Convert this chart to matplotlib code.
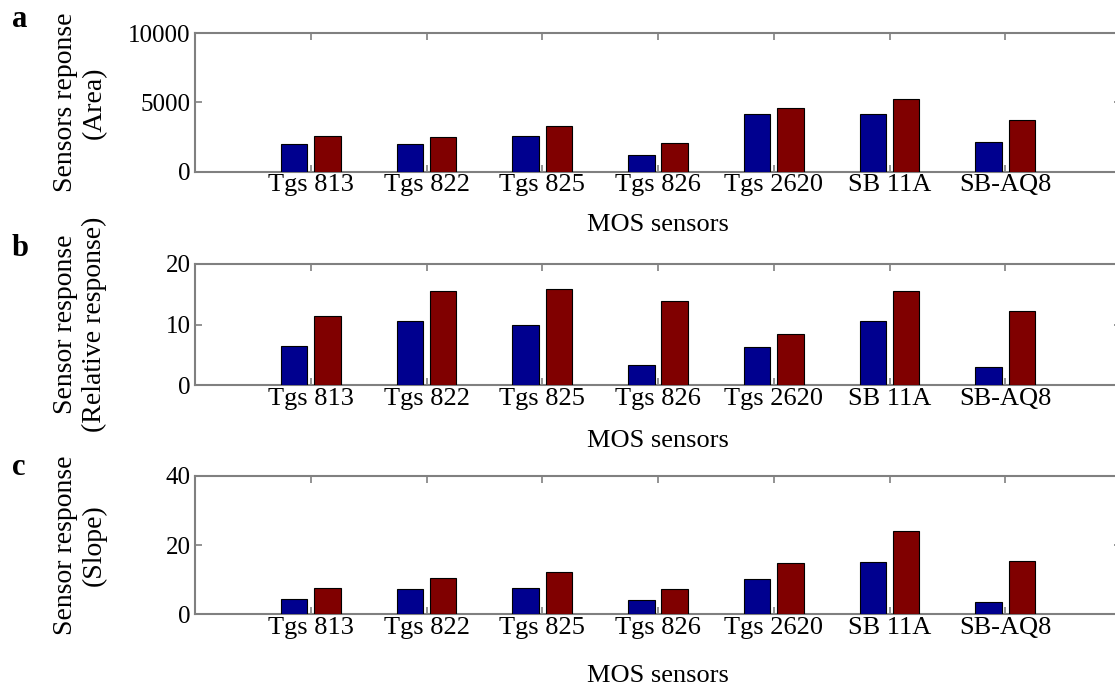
import matplotlib
matplotlib.use('Agg')
import matplotlib.pyplot as plt
import numpy as np

# ---------------- data ----------------
sensors = ['Tgs 813', 'Tgs 822', 'Tgs 825', 'Tgs 826', 'Tgs 2620', 'SB 11A', 'SB-AQ8']

area_blue = [2000, 2000, 2550, 1200, 4150, 4150, 2150]
area_red = [2550, 2480, 3330, 2100, 4630, 5250, 3710]

rel_blue = [6.5, 10.5, 10.0, 3.35, 6.25, 10.5, 2.9]
rel_red = [11.4, 15.55, 15.95, 13.9, 8.5, 15.6, 12.3]

slope_blue = [4.4, 7.4, 7.7, 4.05, 10.3, 15.2, 3.6]
slope_red = [7.7, 10.4, 12.2, 7.4, 14.8, 24.2, 15.5]

panel_letters = ['a', 'b', 'c']
ylabels = ['Sensors reponse\n(Area)',
           'Sensor response\n(Relative response)',
           'Sensor response\n(Slope)']
yticks_list = [[0, 5000, 10000], [0, 10, 20], [0, 20, 40]]
xlabel_text = 'MOS sensors'

# ---------------- style ----------------
plt.rcParams['font.family'] = ['Liberation Serif', 'DejaVu Serif']
FS_TICK = 19
FS_YTICK = 18
FS_XLAB = 19
FS_YLAB = 20
BLUE = '#00008F'
RED = '#800000'
GREY = '#808080'

W, H = 1115, 688
fig = plt.figure(figsize=(W / 100, H / 100), dpi=100)

# axes boxes in pixels: (top, bottom)
boxes = [(33.3, 171.7), (264, 385), (476, 614.3)]
left_px, right_px = 195, 1121
xlabel_y = [-0.4285, -0.51, -0.487]
letter_base_px = [27, 256, 475]

data = [(area_blue, area_red), (rel_blue, rel_red), (slope_blue, slope_red)]

x = np.arange(1, len(sensors) + 1)
bw = 0.229
off = 0.143

for i, ((top, bot), (blue, red)) in enumerate(zip(boxes, data)):
    ax = fig.add_axes([left_px / W, 1 - bot / H, (right_px - left_px) / W, (bot - top) / H])
    ax.bar(x - off, blue, width=bw, color=BLUE, edgecolor='black', linewidth=0.8, zorder=3)
    ax.bar(x + off, red, width=bw, color=RED, edgecolor='black', linewidth=0.8, zorder=3)
    ax.set_xlim(0, 8)
    yt = yticks_list[i]
    ax.set_ylim(yt[0], yt[-1])
    ax.set_yticks(yt)
    ax.set_yticklabels([str(v) for v in yt])
    ax.set_xticks(x)
    ax.set_xticklabels(sensors)
    for s in ax.spines.values():
        s.set_color(GREY)
        s.set_linewidth(1.5)
    ax.tick_params(direction='in', top=True, right=True, length=5, width=1.2,
                   color=GREY, labelcolor='black')
    ax.tick_params(axis='x', pad=2, labelsize=FS_TICK)
    ax.tick_params(axis='y', pad=3, labelsize=FS_YTICK)
    ax.set_xlabel(xlabel_text, fontsize=FS_XLAB, va='baseline')
    ax.xaxis.set_label_coords(0.5, xlabel_y[i])
    ax.text(-0.1247, 0.5, ylabels[i], transform=ax.transAxes, rotation=90,
            ha='center', va='center', multialignment='center', fontsize=FS_YLAB,
            linespacing=1.2)
    fig.text(12 / W, 1 - letter_base_px[i] / H, panel_letters[i], fontsize=22,
             fontweight='bold', ha='left', va='baseline')

fig.savefig('out.png', dpi=100)
